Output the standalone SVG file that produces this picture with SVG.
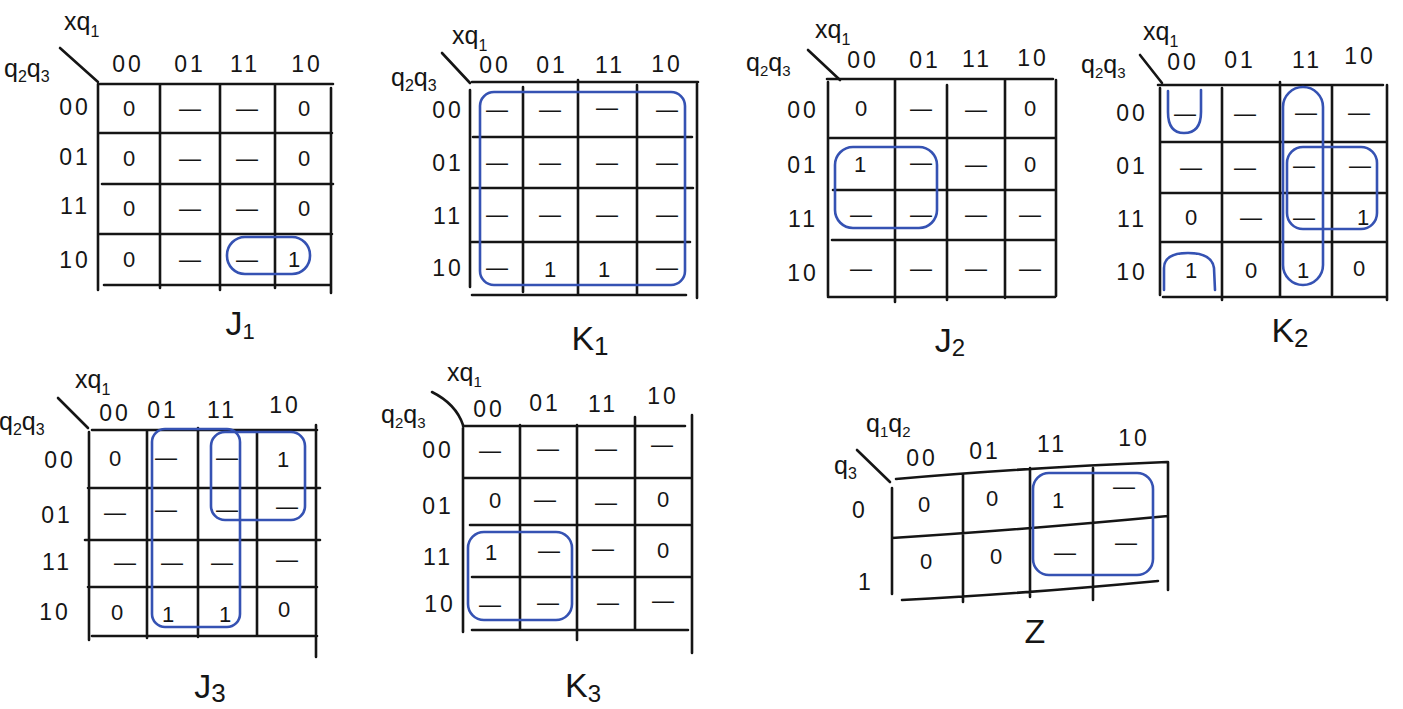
<svg xmlns="http://www.w3.org/2000/svg" width="1403" height="709" viewBox="0 0 1403 709">
<style>
.g{stroke:#151515;stroke-width:2.6;fill:none;stroke-linecap:round}
.b{stroke:#3552b3;stroke-width:2.6;fill:none;stroke-linecap:round}
text{font-family:"Liberation Sans","DejaVu Sans",sans-serif;fill:#151515}
.h{font-size:23px;text-anchor:middle;letter-spacing:3px}
.r{font-size:23px;text-anchor:middle;letter-spacing:3px}
.v{font-size:22px;text-anchor:middle}
.a{font-size:25px}
.L{font-size:34px;text-anchor:middle}
</style>
<rect width="1403" height="709" fill="#fff"/>

<g id="map-J1">
<text class="a" x="64" y="30">xq<tspan dy="7" font-size="16">1</tspan></text>
<text class="a" x="4" y="77">q<tspan dy="5" font-size="16">2</tspan><tspan dy="-5">q</tspan><tspan dy="5" font-size="16">3</tspan></text>
<path class="g" d="M60,48 L98,82"/>
<g class="h"><text x="128" y="72">00</text><text x="190" y="72">01</text><text x="245" y="72">11</text><text x="307" y="72">10</text></g>
<g class="r"><text x="75" y="115">00</text><text x="75" y="165">01</text><text x="75" y="214">11</text><text x="75" y="268">10</text></g>
<path class="g" d="M100,84H333M100,133H332M102,184H333M100,234H332M104,285H331M98,84V290M160,84V288M220,84V290M275,84V288M331,88V293"/>
<g class="v">
<text x="129" y="116">0</text><text x="190" y="116">—</text><text x="247" y="116">—</text><text x="304" y="116">0</text>
<text x="129" y="166">0</text><text x="190" y="166">—</text><text x="247" y="166">—</text><text x="304" y="166">0</text>
<text x="129" y="216">0</text><text x="190" y="216">—</text><text x="247" y="216">—</text><text x="304" y="216">0</text>
<text x="129" y="267">0</text><text x="190" y="267">—</text><text x="247" y="267">—</text><text x="294" y="267">1</text>
</g>
<rect class="b" x="227" y="237" width="83" height="37" rx="18"/>
<text class="L" x="240" y="335" font-size="30">J<tspan dy="4" font-size="22">1</tspan></text>
</g>

<g id="map-K1">
<text class="a" x="452" y="44">xq<tspan dy="7" font-size="16">1</tspan></text>
<text class="a" x="391" y="86">q<tspan dy="5" font-size="16">2</tspan><tspan dy="-5">q</tspan><tspan dy="5" font-size="16">3</tspan></text>
<path class="g" d="M442,53 L470,83"/>
<g class="h"><text x="495" y="73">00</text><text x="552" y="73">01</text><text x="610" y="73">11</text><text x="667" y="72">10</text></g>
<g class="r"><text x="448" y="118">00</text><text x="448" y="171">01</text><text x="448" y="224">11</text><text x="448" y="276">10</text></g>
<path class="g" d="M472,82H698M473,137H692M472,188H693M472,242H690M472,295H686M470,90V287M523,87V292M578,80V294M637,85V295M697,84V298"/>
<g class="v">
<text x="497" y="117">—</text><text x="550" y="117">—</text><text x="607" y="115">—</text><text x="667" y="117">—</text>
<text x="497" y="170">—</text><text x="550" y="170">—</text><text x="607" y="170">—</text><text x="667" y="170">—</text>
<text x="497" y="222">—</text><text x="550" y="222">—</text><text x="607" y="222">—</text><text x="667" y="222">—</text>
<text x="497" y="275">—</text><text x="550" y="277">1</text><text x="604" y="277">1</text><text x="667" y="275">—</text>
</g>
<rect class="b" x="480" y="92" width="205" height="193" rx="14"/>
<text class="L" x="590" y="350" font-size="40">K<tspan dy="5" font-size="26">1</tspan></text>
</g>

<g id="map-J2">
<text class="a" x="815" y="38">xq<tspan dy="7" font-size="16">1</tspan></text>
<text class="a" x="746" y="71" font-size="22">q<tspan dy="5" font-size="15">2</tspan><tspan dy="-5">q</tspan><tspan dy="5" font-size="15">3</tspan></text>
<path class="g" d="M808,50 L840,80"/>
<g class="h"><text x="863" y="68">00</text><text x="925" y="68">01</text><text x="977" y="67">11</text><text x="1033" y="66">10</text></g>
<g class="r"><text x="803" y="118">00</text><text x="803" y="173">01</text><text x="803" y="227">11</text><text x="803" y="281">10</text></g>
<path class="g" d="M827,79H1053M830,138H1055M833,190H1055M832,240H1055M828,297H1055M828,82V296M895,79V302M947,85V300M1005,79V298M1056,80V296"/>
<g class="v">
<text x="861" y="116">0</text><text x="921" y="116">—</text><text x="976" y="117">—</text><text x="1030" y="116">0</text>
<text x="860" y="172">1</text><text x="921" y="170">—</text><text x="976" y="172">—</text><text x="1030" y="172">0</text>
<text x="861" y="222">—</text><text x="921" y="222">—</text><text x="976" y="222">—</text><text x="1030" y="222">—</text>
<text x="861" y="276">—</text><text x="921" y="276">—</text><text x="976" y="276">—</text><text x="1030" y="276">—</text>
</g>
<rect class="b" x="835" y="147" width="102" height="81" rx="18"/>
<text class="L" x="950" y="352" font-size="30">J<tspan dy="4" font-size="24">2</tspan></text>
</g>

<g id="map-K2">
<text class="a" x="1143" y="40">xq<tspan dy="7" font-size="16">1</tspan></text>
<text class="a" x="1081" y="73" font-size="22">q<tspan dy="5" font-size="15">2</tspan><tspan dy="-5">q</tspan><tspan dy="5" font-size="15">3</tspan></text>
<path class="g" d="M1140,55 L1162,83"/>
<g class="h"><text x="1183" y="70">00</text><text x="1240" y="68">01</text><text x="1307" y="68">11</text><text x="1360" y="64">10</text></g>
<g class="r"><text x="1132" y="121">00</text><text x="1132" y="174">01</text><text x="1132" y="227">11</text><text x="1132" y="280">10</text></g>
<path class="g" d="M1158,85H1383M1160,142H1387M1160,193H1385M1162,242H1385M1163,297H1385M1160,88V295M1222,88V300M1280,82V297M1332,85V295M1387,85V300"/>
<g class="v">
<text x="1185" y="121">—</text><text x="1245" y="121">—</text><text x="1306" y="120">—</text><text x="1359" y="120">—</text>
<text x="1191" y="175">—</text><text x="1245" y="175">—</text><text x="1304" y="173">—</text><text x="1360" y="173">—</text>
<text x="1191" y="225">0</text><text x="1251" y="225">—</text><text x="1304" y="225">—</text><text x="1363" y="225">1</text>
<text x="1191" y="278">1</text><text x="1251" y="278">0</text><text x="1303" y="278">1</text><text x="1359" y="276">0</text>
</g>
<path class="b" d="M1168,91V112Q1168,133 1184,133Q1201,133 1201,112V90"/>
<path class="b" d="M1164,290V268Q1164,253 1188,253Q1212,253 1214,268L1215,290"/>
<rect class="b" x="1283" y="87" width="40" height="198" rx="20"/>
<rect class="b" x="1287" y="147" width="90" height="82" rx="16"/>
<text class="L" x="1290" y="342" font-size="38">K<tspan dy="5" font-size="26">2</tspan></text>
</g>

<g id="map-J3">
<text class="a" x="75" y="388">xq<tspan dy="7" font-size="16">1</tspan></text>
<text class="a" x="-1" y="430">q<tspan dy="5" font-size="16">2</tspan><tspan dy="-5">q</tspan><tspan dy="5" font-size="16">3</tspan></text>
<path class="g" d="M58,398 L88,428"/>
<g class="h"><text x="115" y="421">00</text><text x="163" y="418">01</text><text x="222" y="418">11</text><text x="285" y="413">10</text></g>
<g class="r"><text x="60" y="468">00</text><text x="57" y="523">01</text><text x="57" y="570">11</text><text x="55" y="620">10</text></g>
<path class="g" d="M92,430H317M88,488H320M85,540H320M88,587H317M92,636H317M89,432V640M147,430V638M198,428V637M257,430V636M316,425V657"/>
<g class="v">
<text x="115" y="466">0</text><text x="166" y="465">—</text><text x="227" y="465">—</text><text x="283" y="467">1</text>
<text x="115" y="520">—</text><text x="166" y="517">—</text><text x="227" y="517">—</text><text x="287" y="514">—</text>
<text x="125" y="570">—</text><text x="172" y="570">—</text><text x="222" y="570">—</text><text x="287" y="567">—</text>
<text x="117" y="620">0</text><text x="168" y="622">1</text><text x="225" y="622">1</text><text x="284" y="617">0</text>
</g>
<rect class="b" x="152" y="429" width="88" height="198" rx="13"/>
<rect class="b" x="211" y="432" width="94" height="88" rx="14"/>
<text class="L" x="210" y="698" font-size="32">J<tspan dy="4" font-size="26">3</tspan></text>
</g>

<g id="map-K3">
<text class="a" x="447" y="381">xq<tspan dy="6" font-size="15">1</tspan></text>
<text class="a" x="381" y="423" font-size="22">q<tspan dy="5" font-size="15">2</tspan><tspan dy="-5">q</tspan><tspan dy="5" font-size="15">3</tspan></text>
<path class="g" d="M432,392 Q456,404 463,425"/>
<g class="h"><text x="489" y="417">00</text><text x="545" y="411">01</text><text x="603" y="412">11</text><text x="663" y="404">10</text></g>
<g class="r"><text x="438" y="458">00</text><text x="438" y="514">01</text><text x="438" y="565">11</text><text x="440" y="612">10</text></g>
<path class="g" d="M463,426H685M463,478H690M470,525H690M472,577H690M472,630H688M463,428V632M520,425V630M577,425V640M635,417V630M692,415V653"/>
<g class="v">
<text x="490" y="458">—</text><text x="548" y="456">—</text><text x="606" y="456">—</text><text x="662" y="452">—</text>
<text x="495" y="508">0</text><text x="545" y="507">—</text><text x="606" y="510">—</text><text x="663" y="507">0</text>
<text x="491" y="560">1</text><text x="549" y="558">—</text><text x="603" y="556">—</text><text x="663" y="558">0</text>
<text x="490" y="612">—</text><text x="548" y="610">—</text><text x="608" y="610">—</text><text x="663" y="608">—</text>
</g>
<rect class="b" x="468" y="532" width="104" height="88" rx="16"/>
<text class="L" x="583" y="697" font-size="34">K<tspan dy="5" font-size="24">3</tspan></text>
</g>

<g id="map-Z">
<text class="a" x="866" y="432">q<tspan dy="5" font-size="15">1</tspan><tspan dy="-5">q</tspan><tspan dy="5" font-size="15">2</tspan></text>
<text class="a" x="834" y="474">q<tspan dy="5" font-size="16">3</tspan></text>
<path class="g" d="M857,450 L890,482"/>
<g class="h"><text x="922" y="466">00</text><text x="985" y="459">01</text><text x="1052" y="452">11</text><text x="1134" y="446">10</text></g>
<text class="r" x="860" y="518">0</text>
<text class="r" x="866" y="590">1</text>
<path class="g" d="M896,479Q1020,468 1167,462M892,538Q1020,530 1168,516M902,600Q1020,594 1158,581M892,488V594M963,475V602M1030,468V597M1093,468V600M1168,462V590"/>
<g class="v">
<text x="924" y="512">0</text><text x="992" y="506">0</text><text x="1058" y="508">1</text><text x="1124" y="494">—</text>
<text x="926" y="569">0</text><text x="996" y="564">0</text><text x="1065" y="560">—</text><text x="1126" y="550">—</text>
</g>
<rect class="b" x="1033" y="473" width="120" height="102" rx="16"/>
<text class="L" x="1035" y="643" font-size="32">Z</text>
</g>
</svg>
